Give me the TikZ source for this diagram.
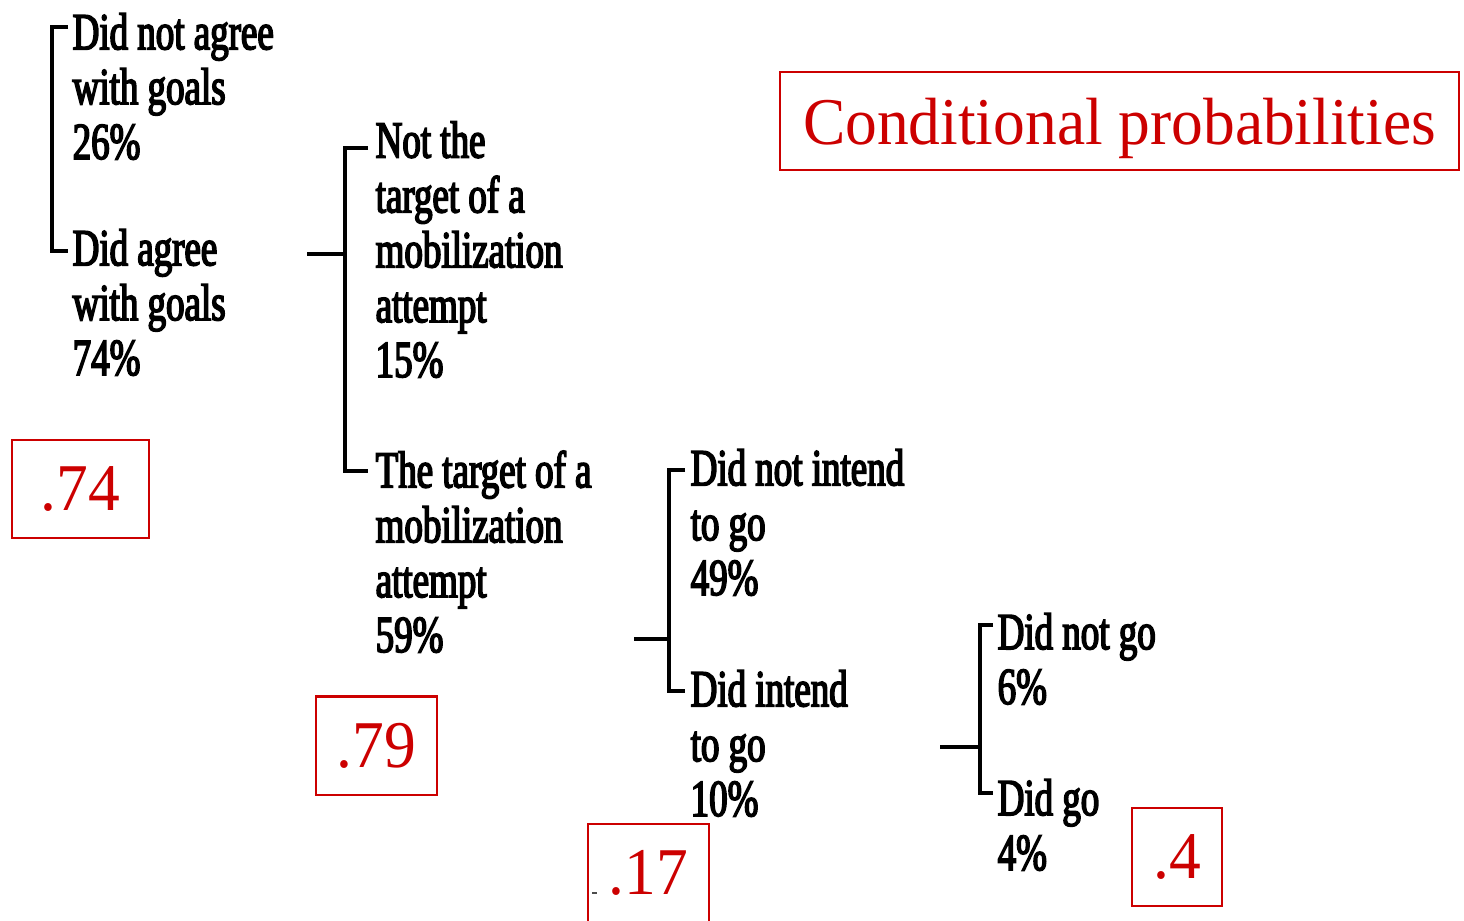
\documentclass[tikz,border=0pt]{standalone}
\usepackage{fontspec}
\setmainfont{Liberation Serif}
\newfontfamily\condfont[FakeStretch=0.71,FakeBold=3]{Liberation Serif}
\newfontfamily\redfont[FakeStretch=0.95]{Liberation Serif}
\definecolor{boxred}{HTML}{CC0000}
\tikzset{
  lbl/.style={anchor=base west, align=left, inner sep=0pt,
    font=\condfont\fontsize{14.8}{15.6}\selectfont},
  redbox/.style={draw=boxred, line width=0.6pt, text=boxred, inner sep=0pt,
    font=\redfont\fontsize{19}{22}\selectfont},
  brk/.style={line width=1.2pt},
  stem/.style={line width=0.9pt}
}
\begin{document}
\begin{tikzpicture}[x=0.01cm,y=-0.01cm]
\useasboundingbox (0,0) rectangle (1464,920);
\clip (0,0) rectangle (1464,920);
% labels (positioned at the baseline of their last line)
\node[lbl] (l1) at (72,159) {Did not agree\\with goals\\26\%};
\node[lbl] (l2) at (72,375) {Did agree\\with goals\\74\%};
\node[lbl] (l3) at (375,377) {Not the\\target of a\\mobilization\\attempt\\15\%};
\node[lbl] (l4) at (375,652) {The target of a\\mobilization\\attempt\\59\%};
\node[lbl] (l5) at (690,595) {Did not intend\\to go\\49\%};
\node[lbl] (l6) at (690,816) {Did intend\\to go\\10\%};
\node[lbl] (l7) at (997,704) {Did not go\\6\%};
\node[lbl] (l8) at (997,870) {Did go\\4\%};
% bracket coordinates
\coordinate (b1x) at (52,0);   \coordinate (b1a) at (68,27);  \coordinate (b1b) at (68,251);
\coordinate (b2x) at (345,0);  \coordinate (b2a) at (368,148); \coordinate (b2b) at (368,471);
\coordinate (b3x) at (669,0);  \coordinate (b3a) at (685,470); \coordinate (b3b) at (685,691);
\coordinate (b4x) at (980,0);  \coordinate (b4a) at (993,625); \coordinate (b4b) at (993,793);
\coordinate (s2) at (307,254);
\coordinate (s3) at (634,639);
\coordinate (s4) at (940,747);
% brackets
\draw[brk] (b1a) -- (b1a -| b1x) -- (b1b -| b1x) -- (b1b);
\draw[brk] (b2a) -- (b2a -| b2x) -- (b2b -| b2x) -- (b2b);
\draw[brk] (b3a) -- (b3a -| b3x) -- (b3b -| b3x) -- (b3b);
\draw[brk] (b4a) -- (b4a -| b4x) -- (b4b -| b4x) -- (b4b);
% stems
\draw[stem] (s2) -- (s2 -| b2x);
\draw[stem] (s3) -- (s3 -| b3x);
\draw[stem] (s4) -- (s4 -| b4x);
% red boxes
\node[redbox, minimum width=6.79cm, minimum height=0.98cm, text depth=0pt] (title) at (1119.5,121) {Conditional probabilities};
\node[redbox, minimum width=1.37cm, minimum height=0.98cm] (p74) at (80.5,489) {.74};
\node[redbox, minimum width=1.21cm, minimum height=0.98cm] (p79) at (376.5,745.5) {.79};
\node[redbox, minimum width=1.21cm, minimum height=0.98cm] (p17) at (648.5,873) {.17};
\node[redbox, minimum width=0.90cm, minimum height=0.98cm] (p4) at (1177,857) {.4};
\coordinate (dsh) at (592,893);
\draw[line width=0.5pt, black!70] (dsh) -- ++(5,0);
\end{tikzpicture}
\end{document}
